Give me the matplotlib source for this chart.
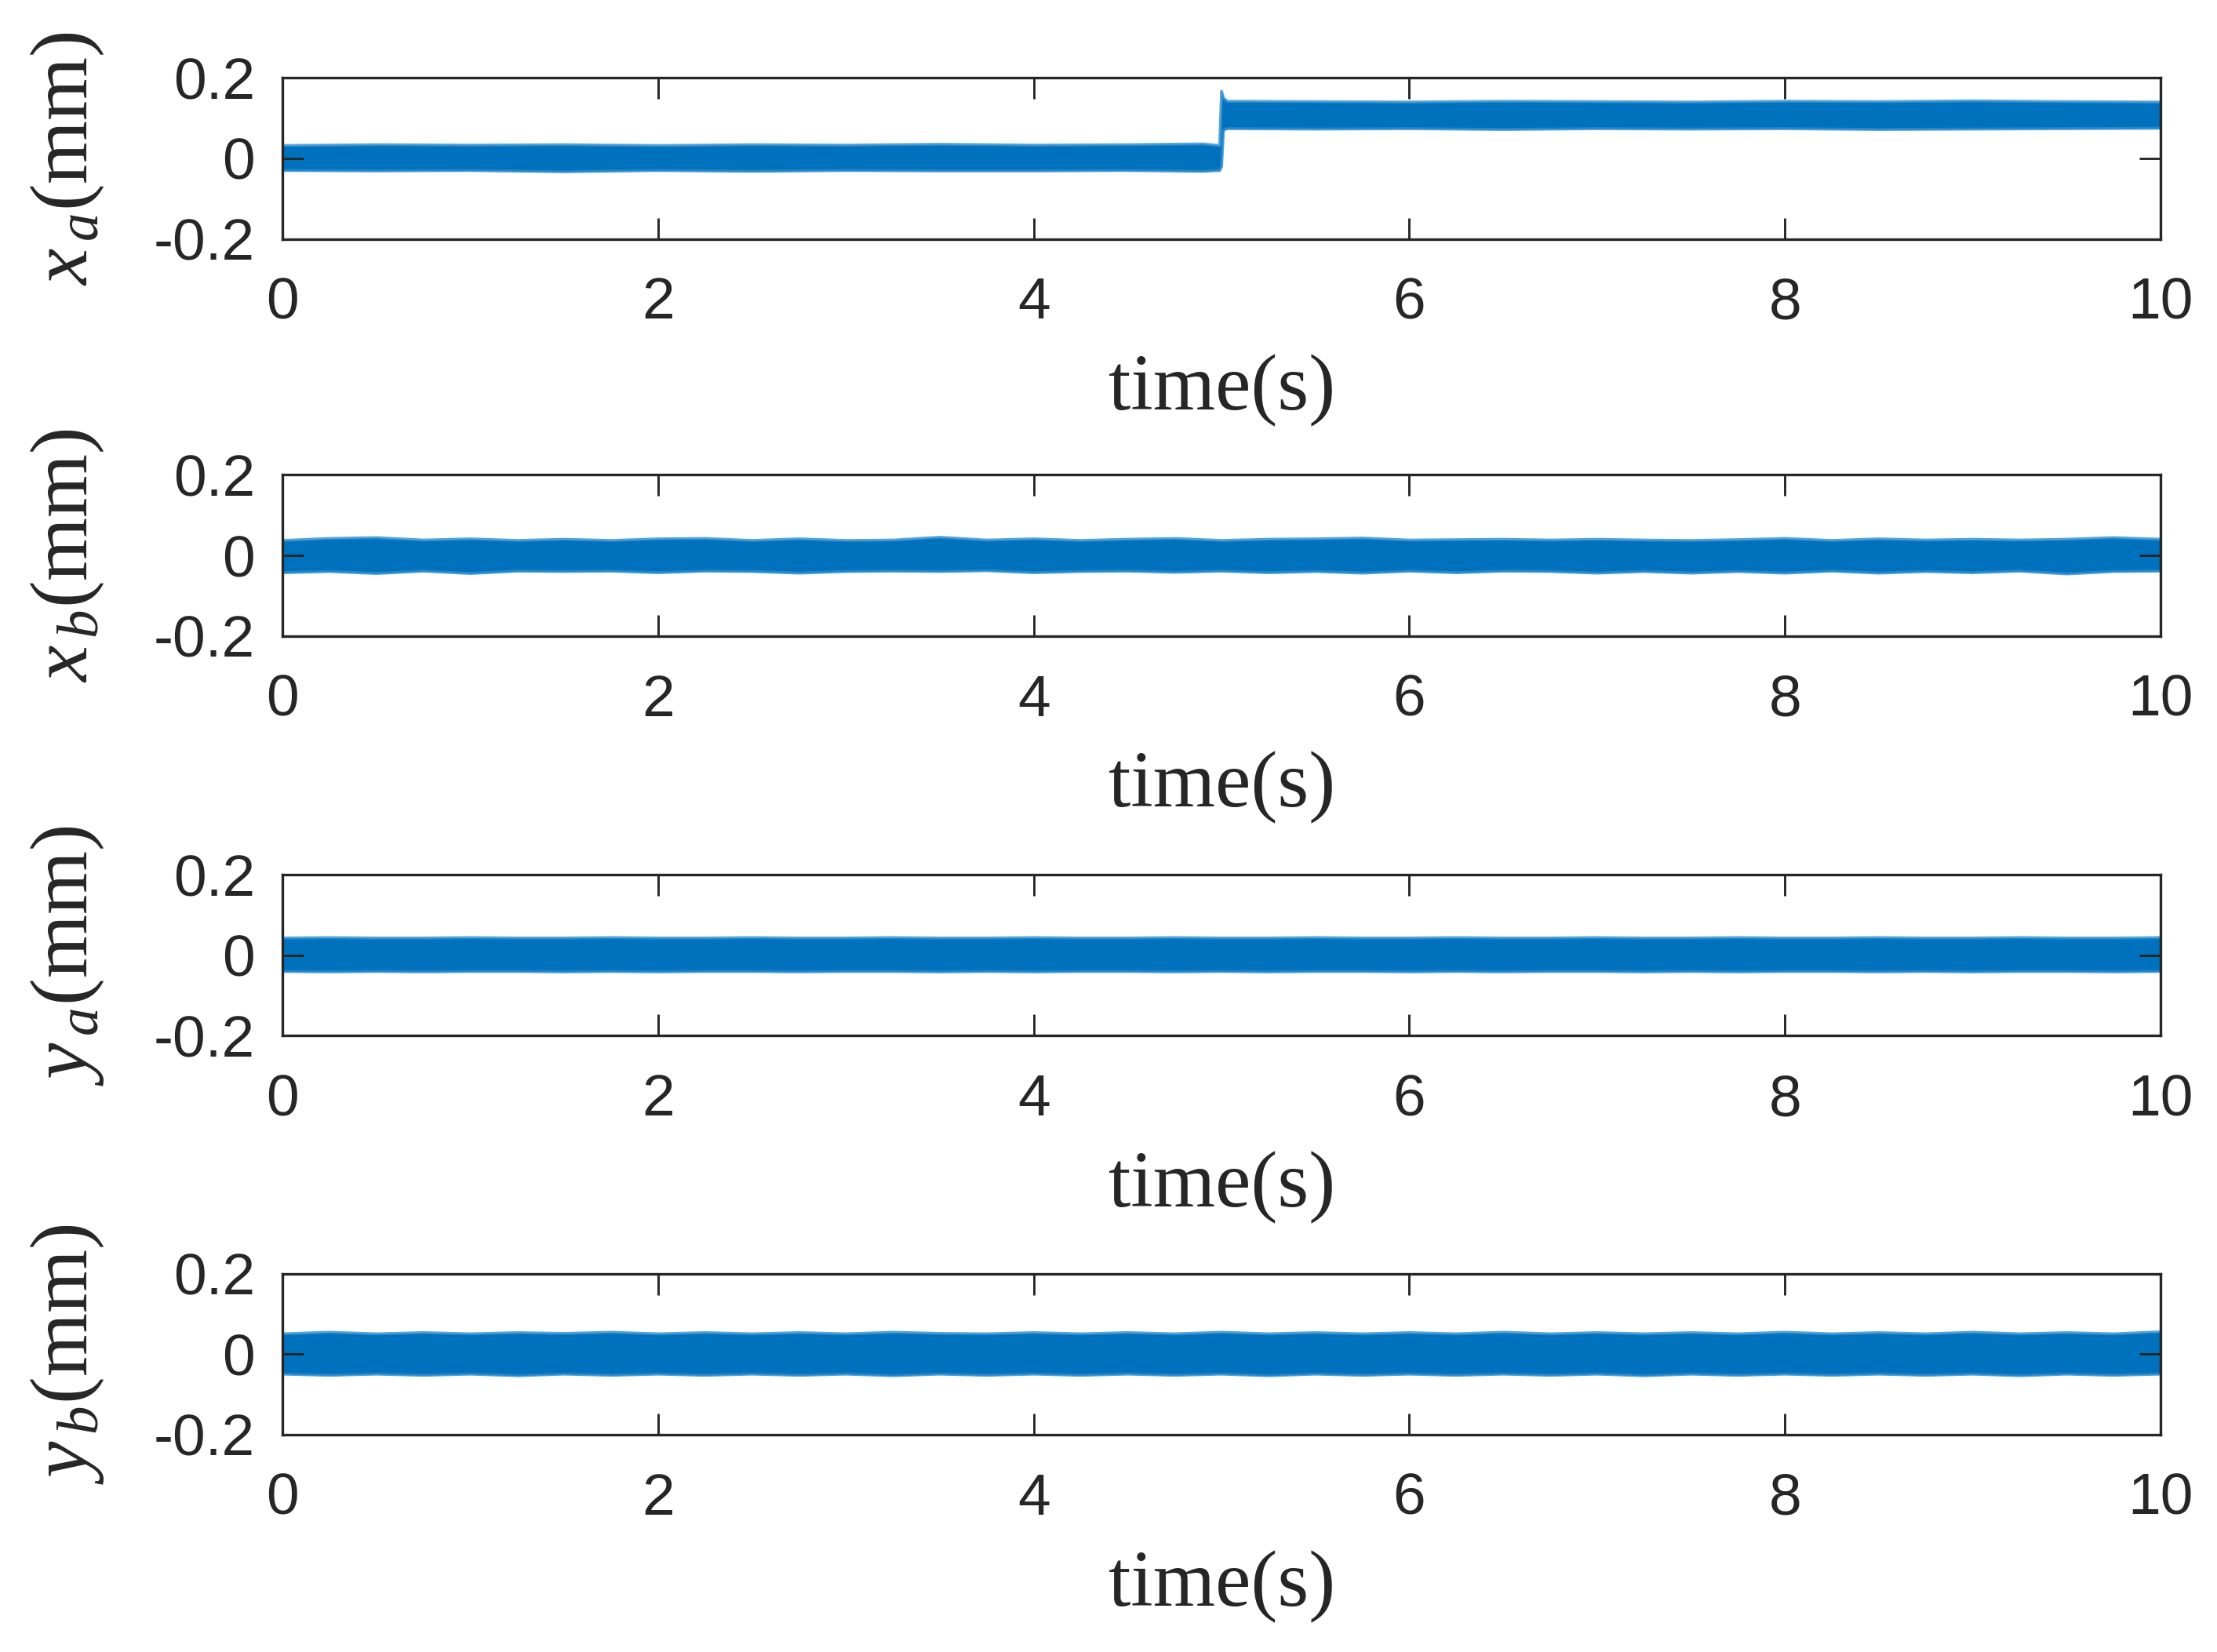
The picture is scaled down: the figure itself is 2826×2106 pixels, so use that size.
import matplotlib
matplotlib.use("Agg")
import matplotlib.pyplot as plt

plt.rcParams['font.family'] = ['Liberation Sans', 'DejaVu Sans']
plt.rcParams['mathtext.fontset'] = 'custom'
plt.rcParams['mathtext.rm'] = 'Liberation Serif'
plt.rcParams['mathtext.it'] = 'Liberation Serif:italic'
plt.rcParams['axes.unicode_minus'] = False

t_xa = [0, 0.5, 1.0, 1.5, 2.0, 2.5, 3.0, 3.5, 4.0, 4.5, 4.9, 4.99,
        5.0, 5.01, 5.03, 5.5, 6.0, 6.5, 7.0, 7.5, 8.0, 8.5, 9.0, 9.5, 10.0]
xa_hi = [0.032, 0.034, 0.033, 0.034, 0.032, 0.034, 0.033, 0.035, 0.033, 0.034, 0.036, 0.032,
         0.167, 0.150, 0.142, 0.141, 0.140, 0.142, 0.141, 0.140, 0.142, 0.141, 0.143, 0.141, 0.140]
xa_lo = [-0.030, -0.031, -0.030, -0.033, -0.030, -0.032, -0.030, -0.031, -0.031, -0.030, -0.032, -0.030,
         -0.020, 0.070, 0.074, 0.073, 0.074, 0.072, 0.074, 0.073, 0.074, 0.072, 0.073, 0.074, 0.075]

t_env = [0, 0.25, 0.5, 0.75, 1.0, 1.25, 1.5, 1.75, 2.0, 2.25, 2.5, 2.75, 3.0, 3.25,
         3.5, 3.75, 4.0, 4.25, 4.5, 4.75, 5.0, 5.25, 5.5, 5.75, 6.0, 6.25, 6.5, 6.75,
         7.0, 7.25, 7.5, 7.75, 8.0, 8.25, 8.5, 8.75, 9.0, 9.25, 9.5, 9.75, 10.0]

xb_hi = [0.037, 0.042, 0.044, 0.038, 0.041, 0.037, 0.040, 0.037, 0.041, 0.042, 0.037,
         0.041, 0.037, 0.038, 0.045, 0.038, 0.041, 0.037, 0.040, 0.042, 0.037, 0.040,
         0.041, 0.043, 0.038, 0.039, 0.040, 0.038, 0.040, 0.038, 0.037, 0.039, 0.042,
         0.037, 0.041, 0.038, 0.040, 0.038, 0.040, 0.044, 0.040]
xb_lo = [-0.043, -0.040, -0.045, -0.039, -0.045, -0.039, -0.040, -0.039, -0.043, -0.039,
         -0.040, -0.044, -0.040, -0.039, -0.040, -0.038, -0.043, -0.040, -0.039, -0.042,
         -0.039, -0.043, -0.040, -0.044, -0.039, -0.043, -0.039, -0.040, -0.044, -0.040,
         -0.044, -0.040, -0.044, -0.039, -0.044, -0.040, -0.043, -0.039, -0.046, -0.040, -0.039]

ya_hi = [0.043, 0.044, 0.043, 0.043, 0.044, 0.043, 0.043, 0.044, 0.043, 0.043, 0.044,
         0.043, 0.043, 0.044, 0.043, 0.043, 0.044, 0.043, 0.043, 0.044, 0.043, 0.043,
         0.044, 0.043, 0.043, 0.044, 0.043, 0.043, 0.044, 0.043, 0.043, 0.044, 0.043,
         0.043, 0.044, 0.043, 0.043, 0.044, 0.043, 0.043, 0.044]
ya_lo = [-0.040, -0.041, -0.040, -0.041, -0.040, -0.040, -0.041, -0.040, -0.041, -0.040,
         -0.040, -0.041, -0.040, -0.040, -0.041, -0.040, -0.041, -0.040, -0.040, -0.041,
         -0.040, -0.041, -0.040, -0.040, -0.041, -0.040, -0.041, -0.040, -0.040, -0.041,
         -0.040, -0.041, -0.040, -0.040, -0.041, -0.040, -0.041, -0.040, -0.040, -0.041, -0.040]

yb_hi = [0.050, 0.054, 0.050, 0.053, 0.050, 0.053, 0.051, 0.054, 0.050, 0.053, 0.050,
         0.053, 0.050, 0.054, 0.051, 0.050, 0.053, 0.050, 0.053, 0.050, 0.054, 0.050,
         0.053, 0.050, 0.053, 0.050, 0.054, 0.050, 0.053, 0.050, 0.053, 0.050, 0.054,
         0.050, 0.053, 0.050, 0.054, 0.050, 0.053, 0.050, 0.055]
yb_lo = [-0.050, -0.053, -0.050, -0.053, -0.050, -0.054, -0.050, -0.053, -0.050, -0.053,
         -0.050, -0.053, -0.050, -0.054, -0.050, -0.053, -0.050, -0.053, -0.050, -0.053,
         -0.050, -0.054, -0.050, -0.053, -0.050, -0.053, -0.050, -0.053, -0.050, -0.054,
         -0.050, -0.053, -0.050, -0.053, -0.050, -0.053, -0.050, -0.054, -0.050, -0.053, -0.050]

ylabels = [r'$x_{\,a}$(mm)', r'$x_{\,b}$(mm)', r'$y_{\,a}$(mm)', r'$y_{\,b}$(mm)']
yticks = [-0.2, 0, 0.2]
ytick_labels = ['-0.2', '0', '0.2']
xticks = [0, 2, 4, 6, 8, 10]

bands = [(t_xa, xa_hi, xa_lo), (t_env, xb_hi, xb_lo),
         (t_env, ya_hi, ya_lo), (t_env, yb_hi, yb_lo)]

blue = '#0072BD'
dark = '#262626'
fig = plt.figure(figsize=(9.42, 7.02), dpi=300)
bottoms = [0.8554, 0.6151, 0.3730, 0.1317]

for i in range(4):
    ax = fig.add_axes([0.1275, bottoms[i], 0.847, 0.0974])
    t, hi, lo = bands[i]
    ax.fill_between(t, lo, hi, color=blue, linewidth=0)
    # soft edge like the dense noise trace
    ax.plot(t, hi, color='#2b8ccf', lw=0.9, alpha=0.8)
    ax.plot(t, lo, color='#2b8ccf', lw=0.9, alpha=0.8)
    ax.set_xlim(0, 10)
    ax.set_ylim(-0.2, 0.2)
    ax.set_xticks(xticks)
    ax.set_xticklabels([str(v) for v in xticks])
    ax.set_yticks(yticks)
    ax.set_yticklabels(ytick_labels)
    ax.tick_params(direction='in', length=6.5, width=0.7, colors=dark,
                   labelsize=18, top=True, right=True)
    ax.tick_params(axis='x', pad=11.5)
    ax.tick_params(axis='y', pad=8.5)
    for s in ax.spines.values():
        s.set_color(dark)
        s.set_linewidth(0.8)
    ax.set_xlabel('time(s)', fontsize=24.5, family='Liberation Serif', color=dark)
    ax.xaxis.set_label_coords(0.5, -0.72)
    ax.xaxis.label.set_va('top')
    ax.set_ylabel(ylabels[i], fontsize=25, family='Liberation Serif', color=dark)
    ax.yaxis.set_label_coords(-0.094, 0.5)

fig.savefig('out.png', dpi=300)
